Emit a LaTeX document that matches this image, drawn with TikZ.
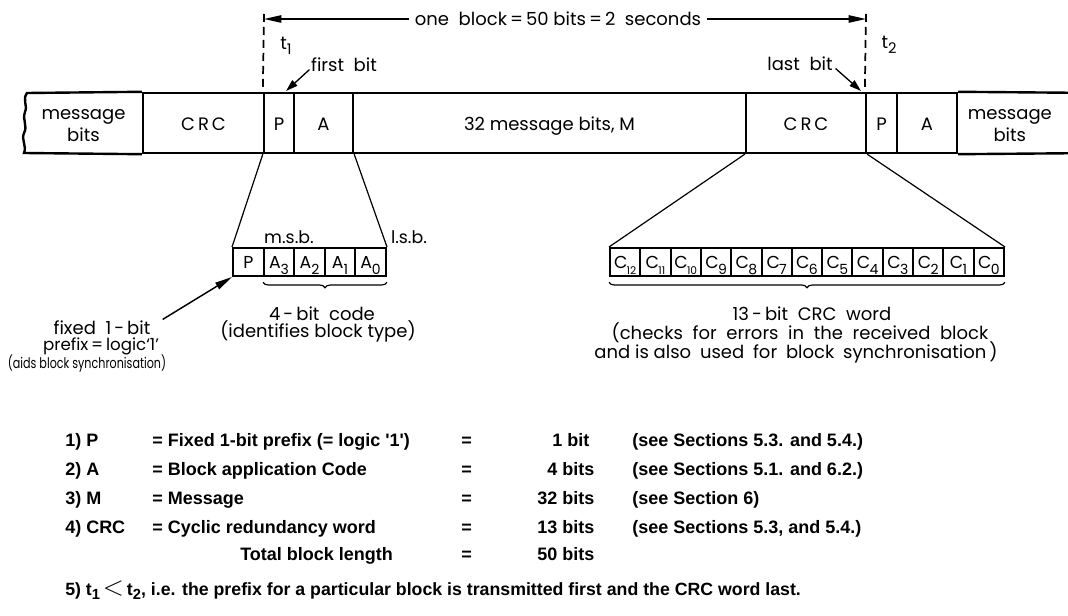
\documentclass[tikz,border=0pt]{standalone}
\usepackage{fontspec}
\usetikzlibrary{arrows.meta,decorations.pathreplacing,fit}
\setmainfont{Poppins}
\newfontfamily\popnarrow[FakeStretch=0.76]{Poppins}
\newfontfamily\lstfont[WordSpace=1.4]{Liberation Sans}
\newfontfamily\lstwide{Liberation Sans}
\newcommand{\lsz}{\fontsize{13.5}{16}\selectfont}
\newcommand{\bsub}[2]{#1\raisebox{-0.55ex}{\fontsize{10.5}{10.5}\selectfont #2}}
\newcommand{\csub}[3]{#1\raisebox{-0.55ex}{\fontsize{#2}{#2}\selectfont\kern-0.5pt #3}}
\newcommand{\lsub}[2]{#1\raisebox{-0.5ex}{\fontsize{11}{11}\selectfont #2}}
\tikzset{
  lab/.style={inner sep=0pt, font=\lsz},
  blab/.style={lab, anchor=base},
  cell/.style={draw, line width=1.8pt, inner sep=0pt},
  bitbox/.style={draw, line width=1.5pt, inner sep=0pt},
  bitlab/.style={inner sep=0pt, anchor=base, font=\fontsize{13}{13}\selectfont},
  arr/.style={line width=1.1pt, -{Triangle[length=13pt,width=5.5pt]}},
  arrs/.style={line width=1pt, -{Triangle[length=9pt,width=5.5pt]}},
  thinline/.style={line width=0.9pt},
  tdash/.style={line width=1.3pt, dash pattern=on 6pt off 3.75pt},
  bracestyle/.style={line width=0.9pt, decorate, decoration={brace, mirror, amplitude=4pt}},
  lst/.style={inner sep=0pt, anchor=base west, font=\lstfont\bfseries\fontsize{13.5}{16}\selectfont},
}
\begin{document}
\begin{tikzpicture}[x=0.75pt,y=-0.75pt]
\useasboundingbox (0,0) rectangle (1068,616);
% ---- main block ----
\node[inner sep=0pt, fit={(24,93)(143,153)}] (mb1) {};
\node[cell, fit={(143,93)(264,153)}] (crc1) {};
\node[cell, fit={(264,93)(294,153)}] (p1) {};
\node[cell, fit={(294,93)(353,153)}] (a1) {};
\node[cell, fit={(353,93)(746,153)}] (m) {};
\node[cell, fit={(746,93)(866,153)}] (crc2) {};
\node[cell, fit={(866,93)(897,153)}] (p2) {};
\node[cell, fit={(897,93)(957,153)}] (a2) {};
\node[inner sep=0pt, fit={(957,93)(1068,153)}] (mb2) {};
\node[blab] (mb1t) at (mb1.center |- 0,120) {message};
\node[blab] (mb1u) at (mb1.center |- 0,141.5) {bits};
\node[blab] (crc1t) at (crc1.center |- 0,131) {C\,R\,C};
\node[blab] (p1t) at (p1.center |- 0,131) {P};
\node[blab] (a1t) at (a1.center |- 0,131) {A};
\node[blab] (mt) at (m.center |- 0,131) {32 message bits, M};
\node[blab] (crc2t) at (crc2.center |- 0,131) {C\,R\,C};
\node[blab] (p2t) at (p2.center |- 0,131) {P};
\node[blab] (a2t) at (a2.center |- 0,131) {A};
\node[blab] (mb2t) at ([xshift=-2pt]mb2.center |- 0,120) {message};
\node[blab] (mb2u) at ([xshift=-2pt]mb2.center |- 0,141.5) {bits};
\draw[line width=1.8pt] (crc1.north west) -- (27,93)
   .. controls (22,100) and (28,105) .. (25,112)
   .. controls (22,120) and (28,126) .. (24,133)
   .. controls (21,140) and (27,146) .. (24,153) -- (crc1.south west);
\draw[line width=1.8pt] (a2.north east) -- (mb2.north east);
\draw[line width=1.8pt] (a2.south east) -- (mb2.south east);
% ---- top: one block ----
\coordinate (t1top) at (264,14);
\coordinate (t2top) at (866,14);
\draw[tdash] (t1top) -- (p1.north west);
\draw[tdash] (t2top) -- (p2.north west);
\node[lab, inner xsep=4pt] (blk) at (558,19) {one\ \ block\,=\,50\ bits\,=\,2\ \ seconds};
\coordinate (t1a) at (264,19);
\coordinate (t2a) at (866,19);
\draw[arr] (blk.west) -- (t1a);
\draw[arr] (blk.east) -- (t2a);
\node[lab] (t1) at (286,46) {\lsub{t}{1}};
\node[lab] (t2) at (889,45) {\lsub{t}{2}};
\node[lab] (fb) at (344,65) {first\ \ bit};
\coordinate (fbtip) at (286,91);
\draw[arrs] ([xshift=-1pt,yshift=2pt]fb.south west) -- (fbtip);
\node[lab] (lb) at (800,64) {last\ \ bit};
\coordinate (lbtip) at (861,91);
\draw[arrs] ([xshift=2pt,yshift=2pt]lb.south east) -- (lbtip);
% ---- P + A expansion ----
\node[bitbox, fit={(233,248)(264,276)}] (sp) {};
\node[bitbox, fit={(264,248)(294,276)}] (sa3) {};
\node[bitbox, fit={(294,248)(325,276)}] (sa2) {};
\node[bitbox, fit={(325,248)(355,276)}] (sa1) {};
\node[bitbox, fit={(355,248)(386,276)}] (sa0) {};
\node[bitlab] (spt) at (sp.center |- 0,269) {P};
\node[bitlab] (sa3t) at (sa3.center |- 0,269) {\bsub{A}{3}};
\node[bitlab] (sa2t) at (sa2.center |- 0,269) {\bsub{A}{2}};
\node[bitlab] (sa1t) at (sa1.center |- 0,269) {\bsub{A}{1}};
\node[bitlab] (sa0t) at (sa0.center |- 0,269) {\bsub{A}{0}};
\draw[thinline] (p1.south west) -- (sp.north west);
\draw[thinline] (a1.south east) -- (sa0.north east);
\node[lab, font=\fontsize{13}{15}\selectfont] (msb) at (289,237) {m.s.b.};
\node[lab, font=\fontsize{13}{15}\selectfont] (lsb) at (409,237) {l.s.b.};
\draw[bracestyle] ([yshift=-4pt]sa3.south west) -- ([yshift=-4pt]sa0.south east);
\node[lab] (code) at (322,314) {4\,-\,bit\ \ code};
\node[lab] (ident) at (318,331) {(identifies block type)};
\node[lab] (fx) at (102,328) {fixed\ \ 1\,-\,bit};
\node[lab, font=\fontsize{12.5}{14}\selectfont] (pre) at (101,346.5) {prefix\,=\,logic`1'};
\node[lab, font=\popnarrow\fontsize{11}{13}\selectfont] (aids) at (87,364) {(aids block synchronisation)};
\draw[arr] ([xshift=9pt,yshift=1pt]fx.north east) -- (sp.south west);
% ---- CRC expansion ----
\foreach \i/\s [count=\k from 0] in {12/8,11/8,10/8,9/10.5,8/10.5,7/10.5,6/10.5,5/10.5,4/10.5,3/10.5,2/10.5,1/10.5,0/10.5}{
  \pgfmathsetmacro{\xa}{610+\k*30.3077}
  \pgfmathsetmacro{\xb}{610+(\k+1)*30.3077}
  \node[bitbox, fit={(\xa,248)(\xb,276)}] (c\i) {};
  \node[bitlab] (c\i t) at (c\i.center |- 0,269) {\csub{C}{\s}{\i}};
}
\draw[thinline] (crc2.south west) -- (c12.north west);
\draw[thinline] (crc2.south east) -- (c0.north east);
\draw[bracestyle] ([yshift=-4pt]c12.south west) -- ([yshift=-4pt]c0.south east);
\node[lab] (crcw) at (812,314) {13\,-\,bit\ \ CRC\ \ word};
\node[lab] (chk) at (800,333) {(checks\ \ for\ \ errors\ \ in\ \ the\ \ received\ \ block};
\node[lab] (sync) at (796,352) {and is also\hspace{3pt} used\hspace{3pt} for\hspace{3pt} block\hspace{3pt} synchronisation\,)};
% ---- list ----
\node[lst] (r1a) at (65,447) {1) P};
\node[lst] (r1b) at (152,447) {= Fixed 1-bit prefix (= logic '1')};
\node[lst] (r1c) at (461,447) {=};
\node[lst] (r1d) at (552,447) {1 bit};
\node[lst] (r1e) at (632,447) {(see Sections 5.3. and 5.4.)};
\node[lst] (r2a) at (65,476) {2) A};
\node[lst] (r2b) at (152,476) {= Block application Code};
\node[lst] (r2c) at (461,476) {=};
\node[lst] (r2d) at (547,476) {4 bits};
\node[lst] (r2e) at (632,476) {(see Sections 5.1. and 6.2.)};
\node[lst] (r3a) at (65,504) {3) M};
\node[lst] (r3b) at (152,504) {= Message};
\node[lst] (r3c) at (461,504) {=};
\node[lst] (r3d) at (537,504) {32 bits};
\node[lst] (r3e) at (632,504) {(see Section 6)};
\node[lst] (r4a) at (65,533) {4) CRC};
\node[lst] (r4b) at (152,533) {=\ Cyclic redundancy word};
\node[lst] (r4c) at (461,533) {=};
\node[lst] (r4d) at (537,533) {13 bits};
\node[lst] (r4e) at (632,533) {(see Sections 5.3, and 5.4.)};
\node[lst] (r5b) at (240,561) {Total block length};
\node[lst] (r5c) at (461,561) {=};
\node[lst] (r5d) at (537,561) {50 bits};
\node[lst, font=\lstwide\bfseries\fontsize{13.3}{16}\selectfont] (r6) at (65,595) {5) \lsub{t}{1}\,{\fontsize{20}{20}\mdseries\selectfont$<$}\,\lsub{t}{2}, i.e. the prefix for a particular block is transmitted first and the CRC word last.};
\end{tikzpicture}
\end{document}
